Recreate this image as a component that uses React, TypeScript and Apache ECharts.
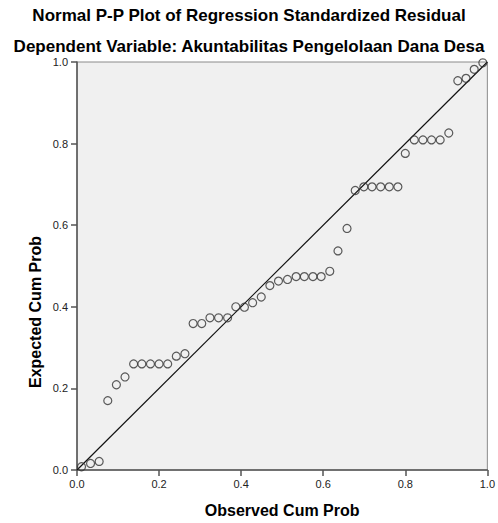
import React, { useEffect, useRef } from "react";
import * as echarts from "echarts";

const titleMain = "Normal P-P Plot of Regression Standardized Residual";
const titleSub = "Dependent Variable: Akuntabilitas Pengelolaan Dana Desa";
const xAxisTitle = "Observed Cum Prob";
const yAxisTitle = "Expected Cum Prob";

const observedCumProb = [
  0.011, 0.033, 0.054, 0.075, 0.096, 0.117, 0.138, 0.158, 0.179, 0.2, 0.221, 0.242,
  0.263, 0.283, 0.304, 0.324, 0.345, 0.367, 0.387, 0.408, 0.428, 0.449, 0.47, 0.491,
  0.513, 0.534, 0.554, 0.575, 0.595, 0.616, 0.636, 0.658, 0.678, 0.699, 0.719, 0.74,
  0.761, 0.782, 0.8, 0.822, 0.843, 0.864, 0.885, 0.906, 0.928, 0.948, 0.968, 0.989,
];
const expectedCumProb = [
  0.008, 0.016, 0.021, 0.17, 0.209, 0.228, 0.26, 0.26, 0.26, 0.26, 0.26, 0.279,
  0.285, 0.359, 0.359, 0.373, 0.373, 0.373, 0.4, 0.399, 0.41, 0.424, 0.452, 0.463,
  0.467, 0.474, 0.474, 0.474, 0.474, 0.487, 0.537, 0.592, 0.685, 0.694, 0.694, 0.694,
  0.694, 0.694, 0.776, 0.809, 0.809, 0.809, 0.809, 0.826, 0.954, 0.96, 0.982, 0.998,
];
const referenceLine = [
  [0, 0],
  [1, 1],
];

export default function App() {
  const ref = useRef<HTMLDivElement>(null);
  useEffect(() => {
    if (!ref.current) return;
    const chart = echarts.init(ref.current, null, { renderer: "svg" });
    const points = observedCumProb.map((x, i) => [x, expectedCumProb[i]]);
    const font = "Arial, 'Liberation Sans', sans-serif";
    chart.setOption({
      animation: false,
      backgroundColor: "#ffffff",
      textStyle: { fontFamily: font },
      title: [
        {
          text: titleMain,
          left: "center",
          top: 2,
          textStyle: { fontSize: 17, fontWeight: "bold", color: "#000", fontFamily: font },
        },
        {
          text: titleSub,
          left: "center",
          top: 33,
          textStyle: { fontSize: 17, fontWeight: "bold", color: "#000", fontFamily: font },
        },
      ],
      graphic: [
        {
          type: "text",
          x: 35,
          y: 312,
          rotation: Math.PI / 2,
          style: {
            text: yAxisTitle,
            align: "center",
            verticalAlign: "middle",
            fontSize: 16,
            fontWeight: "bold",
            fontFamily: font,
            fill: "#000",
          },
        },
      ],
      grid: {
        left: 77,
        top: 62,
        width: 411,
        height: 411,
        show: true,
        backgroundColor: "#f0f0f0",
        borderColor: "#8a8a8a",
        borderWidth: 1,
      },
      xAxis: {
        type: "value",
        min: 0,
        max: 1,
        interval: 0.2,
        name: xAxisTitle,
        nameLocation: "middle",
        nameGap: 32,
        nameTextStyle: { fontSize: 16, fontWeight: "bold", color: "#000", fontFamily: font },
        axisLine: { show: true, lineStyle: { color: "#555", width: 1.5 } },
        axisTick: { show: true, length: 6, lineStyle: { color: "#555", width: 1.5 } },
        axisLabel: {
          margin: 8,
          fontSize: 11,
          color: "#222",
          formatter: (v: number) => v.toFixed(1),
        },
        splitLine: { show: false },
      },
      yAxis: {
        type: "value",
        min: 0,
        max: 1,
        interval: 0.2,
        axisLine: { show: true, lineStyle: { color: "#555", width: 1.5 } },
        axisTick: { show: true, length: 6, lineStyle: { color: "#555", width: 1.5 } },
        axisLabel: {
          margin: 9,
          fontSize: 11,
          color: "#222",
          formatter: (v: number) => v.toFixed(1),
        },
        splitLine: { show: false },
      },
      series: [
        {
          type: "line",
          data: referenceLine,
          symbol: "none",
          silent: true,
          lineStyle: { color: "#111", width: 1.2 },
          z: 3,
        },
        {
          type: "scatter",
          data: points,
          symbol: "circle",
          symbolSize: 8,
          itemStyle: { color: "rgba(0,0,0,0)", borderColor: "#333", borderWidth: 1.2 },
          z: 4,
        },
      ],
    });
    return () => chart.dispose();
  }, []);
  return (
    <div
      ref={ref}
      style={{ position: "fixed", left: 0, top: 0, width: 498, height: 523, background: "#fff" }}
    />
  );
}
